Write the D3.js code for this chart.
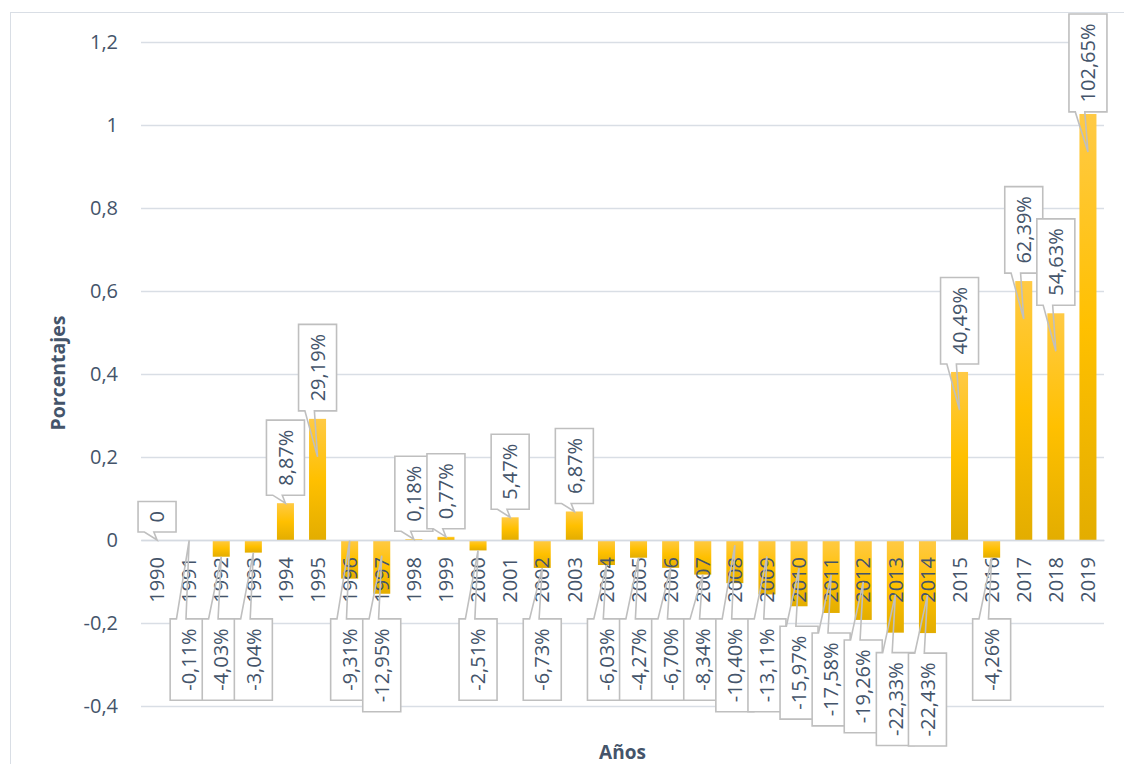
<!DOCTYPE html>
<html lang="es">
<head>
<meta charset="UTF-8">
<title>Porcentajes por año</title>
<script src="https://cdn.jsdelivr.net/npm/d3@7"></script>
<style>
  body { margin: 0; background: #fff; }
  svg text { font-family: "Open Sans", "Noto Sans", sans-serif; fill: #44546A; }
</style>
</head>
<body>
<svg id="chart" width="1124" height="764"></svg>
<script>
// datos
var years = [1990, 1991, 1992, 1993, 1994, 1995, 1996, 1997, 1998, 1999,
             2000, 2001, 2002, 2003, 2004, 2005, 2006, 2007, 2008, 2009,
             2010, 2011, 2012, 2013, 2014, 2015, 2016, 2017, 2018, 2019];
var values = [0, -0.0011, -0.0403, -0.0304, 0.0887, 0.2919, -0.0931, -0.1295, 0.0018, 0.0077,
              -0.0251, 0.0547, -0.0673, 0.0687, -0.0603, -0.0427, -0.0670, -0.0834, -0.1040, -0.1311,
              -0.1597, -0.1758, -0.1926, -0.2233, -0.2243, 0.4049, -0.0426, 0.6239, 0.5463, 1.0265];
var labels = ["0", "-0,11%", "-4,03%", "-3,04%", "8,87%", "29,19%", "-9,31%", "-12,95%", "0,18%", "0,77%",
              "-2,51%", "5,47%", "-6,73%", "6,87%", "-6,03%", "-4,27%", "-6,70%", "-8,34%", "-10,40%", "-13,11%",
              "-15,97%", "-17,58%", "-19,26%", "-22,33%", "-22,43%", "40,49%", "-4,26%", "62,39%", "54,63%", "102,65%"];
var yTicks = [-0.4, -0.2, 0, 0.2, 0.4, 0.6, 0.8, 1, 1.2];

var svg = d3.select("#chart");
var plotLeft = 141, plotRight = 1104, plotTop = 42, plotBottom = 706;

var esLocale = d3.formatLocale({decimal: ",", thousands: ".", grouping: [3], currency: ["", "€"], minus: "-"});
var fmt = esLocale.format("~g");

var x = d3.scaleBand().domain(years).range([plotLeft, plotRight]).paddingInner(0.47).paddingOuter(0.235);
var y = d3.scaleLinear().domain([-0.4, 1.2]).range([plotBottom, plotTop]);

// borde del area del grafico
svg.append("rect")
  .attr("x", 10.5).attr("y", 12.5).attr("width", 1200).attr("height", 800)
  .attr("fill", "none").attr("stroke", "#D9DEE5").attr("stroke-width", 1);

// eje y con lineas de cuadricula
var yAxis = svg.append("g")
  .attr("transform", "translate(" + plotLeft + ",0)")
  .call(d3.axisLeft(y).tickValues(yTicks).tickFormat(fmt).tickSize(-(plotRight - plotLeft)).tickPadding(23));
yAxis.select(".domain").remove();
yAxis.selectAll(".tick line").attr("stroke", "#D9DEE5").attr("stroke-width", 1.3);
yAxis.selectAll(".tick text").attr("font-size", 20).style("fill", "#44546A");

// gradiente de las barras
var grad = svg.append("defs").append("linearGradient")
  .attr("id", "barGrad").attr("x1", 0).attr("y1", 0).attr("x2", 0).attr("y2", 1);
grad.append("stop").attr("offset", "0%").attr("stop-color", "#FFCA45");
grad.append("stop").attr("offset", "50%").attr("stop-color", "#FFC000");
grad.append("stop").attr("offset", "100%").attr("stop-color", "#E3AD00");

var data = years.map(function (yr, i) { return {year: yr, value: values[i], label: labels[i]}; });

svg.append("g").selectAll("rect")
  .data(data)
  .enter().append("rect")
  .attr("x", d => x(d.year))
  .attr("width", x.bandwidth())
  .attr("y", d => y(Math.max(0, d.value)))
  .attr("height", d => Math.abs(y(d.value) - y(0)))
  .attr("fill", "url(#barGrad)");

// eje x
var xAxis = svg.append("g")
  .attr("transform", "translate(0," + y(0) + ")")
  .call(d3.axisBottom(x).tickSize(0).tickSizeOuter(0));
xAxis.select(".domain").attr("stroke", "#D5DAE1").attr("stroke-width", 1.5);
xAxis.selectAll(".tick text")
  .attr("font-size", 20)
  .attr("transform", "rotate(-90)")
  .attr("x", -17).attr("y", 0).attr("dy", "0.36em")
  .attr("text-anchor", "end")
  .style("fill", "#44546A");

// titulos de ejes
svg.append("text")
  .attr("transform", "translate(65," + ((plotTop + plotBottom) / 2 - 1) + ") rotate(-90)")
  .attr("text-anchor", "middle")
  .attr("font-size", 19.5).attr("font-weight", "bold")
  .text("Porcentajes");
svg.append("text")
  .attr("x", (plotLeft + plotRight) / 2).attr("y", 759)
  .attr("text-anchor", "middle")
  .attr("font-size", 19).attr("font-weight", "bold")
  .text("Años");

// etiquetas tipo globo (callout)
function calloutPath(bx, by, bw, bh, tx, ty) {
  var cx = bx + bw / 2, cy = by + bh / 2;
  var dx = tx - cx, dy = ty - cy;
  var inside = tx >= bx && tx <= bx + bw && ty >= by && ty <= by + bh;
  var p = d3.path();
  if (inside) {
    p.rect(bx, by, bw, bh);
    return p.toString();
  }
  var vertical = Math.abs(dy) / bh >= Math.abs(dx) / bw;
  if (vertical) {
    var a = dx > 1 ? bx + bw * 7 / 12 : bx + bw * 2 / 12;
    var b = dx > 1 ? bx + bw * 10 / 12 : bx + bw * 5 / 12;
    p.moveTo(bx, by);
    if (dy < 0) { p.lineTo(a, by); p.lineTo(tx, ty); p.lineTo(b, by); }
    p.lineTo(bx + bw, by);
    p.lineTo(bx + bw, by + bh);
    if (dy > 0) { p.lineTo(b, by + bh); p.lineTo(tx, ty); p.lineTo(a, by + bh); }
    p.lineTo(bx, by + bh);
    p.closePath();
  } else {
    var c = dy > 1 ? by + bh * 7 / 12 : by + bh * 2 / 12;
    var e = dy > 1 ? by + bh * 10 / 12 : by + bh * 5 / 12;
    p.moveTo(bx, by);
    p.lineTo(bx + bw, by);
    if (dx > 0) { p.lineTo(bx + bw, c); p.lineTo(tx, ty); p.lineTo(bx + bw, e); }
    p.lineTo(bx + bw, by + bh);
    p.lineTo(bx, by + bh);
    if (dx < 0) { p.lineTo(bx, e); p.lineTo(tx, ty); p.lineTo(bx, c); }
    p.closePath();
  }
  return p.toString();
}

var labelLayer = svg.append("g");
var boxW = 38, pad = 9.5;
data.forEach(function (d) {
  var cx = x(d.year) + x.bandwidth() / 2;
  var yEnd = y(d.value), y0 = y(0);
  var h = Math.abs(yEnd - y0);
  var g = labelLayer.append("g");
  var fillRect = g.append("rect").attr("fill", "#fff");
  var path = g.append("path");
  var txt = g.append("text")
    .attr("font-size", 20)
    .attr("text-anchor", "middle")
    .attr("dy", "0.36em")
    .text(d.label);
  var len = txt.node().getComputedTextLength();
  var boxH = len + 2 * pad;
  var bx = cx - boxW / 2, by, tipY;
  if (d.value >= 0) {
    by = Math.max(14, yEnd - 8 - boxH);
    tipY = h >= 38 ? yEnd + 38 : yEnd;
  } else {
    by = Math.max(y(-0.19), yEnd + 20);
    tipY = h >= 38 ? yEnd - 38 : yEnd;
  }
  fillRect.attr("x", bx).attr("y", by).attr("width", boxW).attr("height", boxH);
  path.attr("d", calloutPath(bx, by, boxW, boxH, cx, tipY))
    .attr("fill", "none")
    .attr("stroke", "#BFBFBF")
    .attr("stroke-width", 1.6)
    .attr("stroke-linejoin", "miter");
  txt.attr("transform", "translate(" + cx + "," + (by + boxH / 2) + ") rotate(-90)");
});
</script>
</body>
</html>
